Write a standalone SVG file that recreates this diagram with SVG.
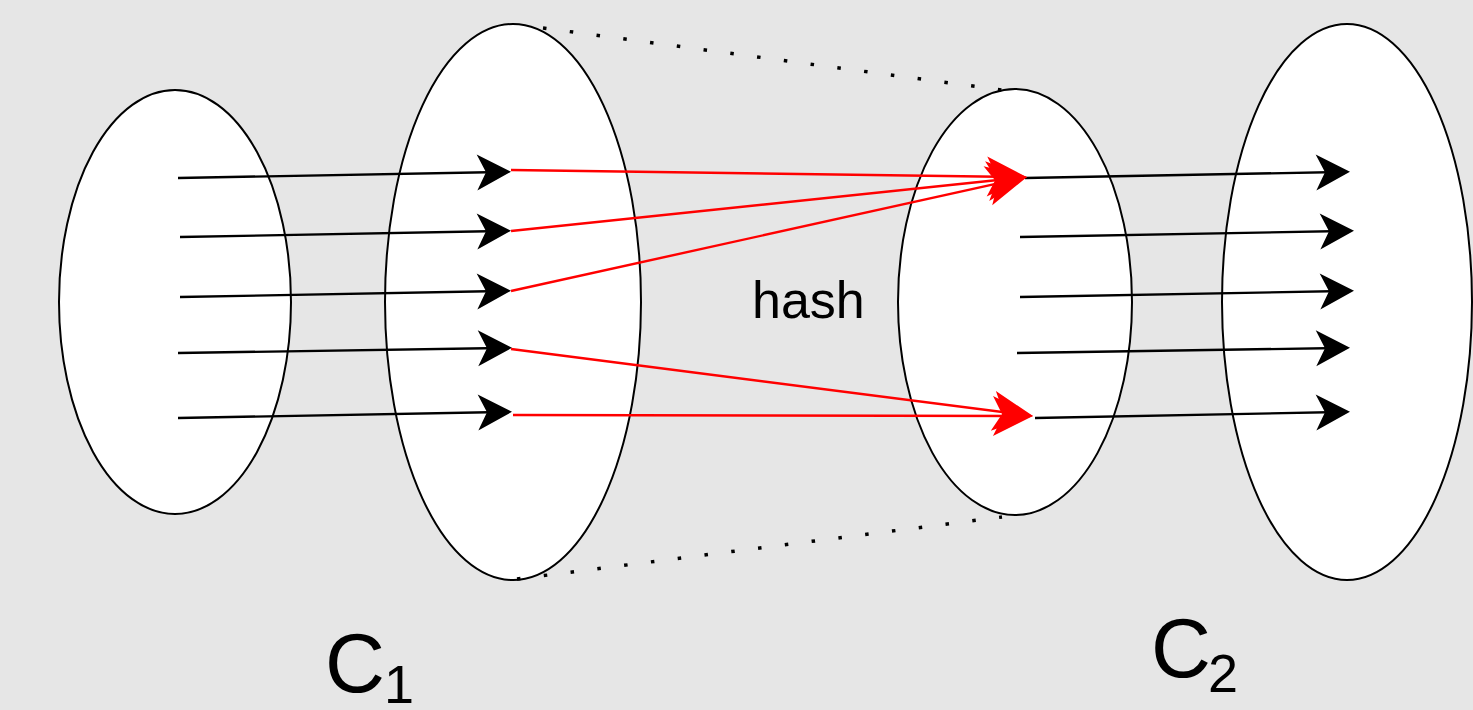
<svg xmlns="http://www.w3.org/2000/svg" width="1473" height="710" viewBox="0 0 1473 710">
<style>
.ell{fill:#ffffff;stroke:#000000;stroke-width:2}
.blk{stroke:#000000;stroke-width:2.4;fill:none}
.red{stroke:#ff0000;stroke-width:2.4;fill:none}
.dot{stroke:#000000;stroke-width:3.5;fill:none;stroke-dasharray:3.5 23.5}
.lbl{font-family:"Liberation Sans",Arial,sans-serif;fill:#000000}
</style>
<defs>
<marker id="ab" markerUnits="userSpaceOnUse" viewBox="-30 -20 45 40" refX="0" refY="0" markerWidth="45" markerHeight="40" orient="auto">
<path d="M10,0 L-24,-18 L-15,0 L-24,18 Z" fill="#000000"/>
</marker>
<marker id="ar" markerUnits="userSpaceOnUse" viewBox="-35 -23 50 46" refX="0" refY="0" markerWidth="50" markerHeight="46" orient="auto">
<path d="M10,0 L-30,-20 L-20,0 L-30,20 Z" fill="#ff0000"/>
</marker>
</defs>
<rect x="0" y="0" width="1473" height="710" fill="#e6e6e6"/>
<g id="set1"><ellipse class="ell" cx="175" cy="302" rx="116" ry="212"/></g>
<g id="set2"><ellipse class="ell" cx="513" cy="302" rx="128" ry="278"/></g>
<g id="set3"><ellipse class="ell" cx="1015" cy="302" rx="117" ry="213"/></g>
<g id="set4"><ellipse class="ell" cx="1347" cy="302" rx="125" ry="278"/></g>
<g id="connectors">
<line class="dot" x1="543" y1="28" x2="1002" y2="90"/>
<line class="dot" x1="517" y1="579" x2="1002" y2="517"/>
<line class="blk" x1="178" y1="178" x2="501" y2="172" marker-end="url(#ab)"/>
<line class="blk" x1="180" y1="237" x2="501" y2="231" marker-end="url(#ab)"/>
<line class="blk" x1="180" y1="297" x2="501" y2="291" marker-end="url(#ab)"/>
<line class="blk" x1="178" y1="353" x2="502" y2="348" marker-end="url(#ab)"/>
<line class="blk" x1="178" y1="418" x2="502" y2="412" marker-end="url(#ab)"/>
<line class="blk" x1="1025" y1="178" x2="1340" y2="172" marker-end="url(#ab)"/>
<line class="blk" x1="1020" y1="237" x2="1344" y2="231" marker-end="url(#ab)"/>
<line class="blk" x1="1020" y1="297" x2="1344" y2="291" marker-end="url(#ab)"/>
<line class="blk" x1="1017" y1="353" x2="1340" y2="348" marker-end="url(#ab)"/>
<line class="blk" x1="1035" y1="418" x2="1340" y2="412" marker-end="url(#ab)"/>
<line class="red" x1="511" y1="170" x2="1017" y2="177" marker-end="url(#ar)"/>
<line class="red" x1="511" y1="231" x2="1017" y2="178" marker-end="url(#ar)"/>
<line class="red" x1="511" y1="291" x2="1017.2" y2="179.2" marker-end="url(#ar)"/>
<line class="red" x1="511" y1="349" x2="1023.1" y2="414.7" marker-end="url(#ar)"/>
<line class="red" x1="513" y1="415" x2="1023" y2="416" marker-end="url(#ar)"/>
</g>
<g id="labels">
<text class="lbl" x="752" y="318" font-size="52">hash</text>
<text class="lbl" x="325" y="692" font-size="83">C</text>
<text class="lbl" x="384" y="703" font-size="54">1</text>
<text class="lbl" x="1151" y="677" font-size="83">C</text>
<text class="lbl" x="1208" y="692" font-size="54">2</text>
</g>
</svg>
